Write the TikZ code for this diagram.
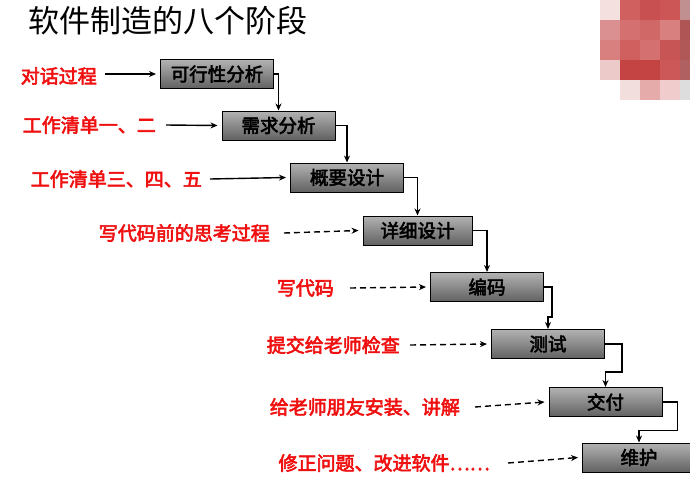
\documentclass[tikz,border=0pt]{standalone}
\usepackage{fontspec}
\setmainfont{Noto Sans CJK SC}[AutoFakeBold=3]
\usetikzlibrary{arrows.meta,calc}
\definecolor{lblred}{HTML}{F01010}
\tikzset{
  stage/.style={draw=black, line width=1pt, top color=black!30, bottom color=black!62, minimum width=113pt, minimum height=29pt, inner sep=0pt, font=\bfseries\fontsize{18.5}{18.5}\selectfont},
  lbl/.style={anchor=east, text=lblred, font=\bfseries\fontsize{19}{19}\selectfont, inner sep=0pt},
  feed/.style={-{Stealth[length=7pt,width=6pt]}, line width=1.4pt},
  feeddash/.style={feed, dash pattern=on 6pt off 4pt},
  link/.style={-{Stealth[length=7pt,width=6pt]}, line width=1.8pt}
}
\begin{document}
\begin{tikzpicture}[x=1pt,y=-1pt]
\useasboundingbox (0,0) rectangle (690,488);
\fill[white] (0,0) rectangle (690,488);
% decoration
\foreach \c [count=\i from 0] in {F5E0E0,D06060,C85050,CC5555,C09090}{\definecolor{tmp}{HTML}{\c}\fill[tmp] (600+20*\i,0) rectangle ++(20,20);}
\foreach \c [count=\i from 0] in {DA9090,D57070,D06868,D88080,B05555}{\definecolor{tmp}{HTML}{\c}\fill[tmp] (600+20*\i,20) rectangle ++(20,20);}
\foreach \c [count=\i from 0] in {D88080,D06060,D57070,C85555,B05858}{\definecolor{tmp}{HTML}{\c}\fill[tmp] (600+20*\i,40) rectangle ++(20,20);}
\foreach \c [count=\i from 0] in {EDCACA,C44444,C44444,CC5858,B06060}{\definecolor{tmp}{HTML}{\c}\fill[tmp] (600+20*\i,60) rectangle ++(20,20);}
\foreach \c [count=\i from 0] in {FFFFFF,F3DEDE,E5AAAA,F0CCCC,DDDDDD}{\definecolor{tmp}{HTML}{\c}\fill[tmp] (600+20*\i,80) rectangle ++(20,20);}
\node[anchor=west, font=\fontsize{31}{31}\selectfont, inner sep=0pt] (title) at (28,21) {软件制造的八个阶段};
% stages
\node[stage] (s1) at (217,74) {可行性分析};
\node[stage] (s2) at (278.5,125.5) {需求分析};
\node[stage] (s3) at (347,177.5) {概要设计};
\node[stage, minimum width=109pt] (s4) at (417.5,230.5) {详细设计};
\node[stage] (s5) at (487,287) {编码};
\node[stage] (s6) at (548,344) {测试};
\node[stage] (s7) at (605.5,402) {交付};
\node[stage] (s8) at (639,457.5) {维护};
% links
\draw[link] (s1.east) -| (s2.north);
\draw[link] (s2.east) -| (s3.north);
\draw[link] (s3.east) -| (s4.north);
\draw[link] (s4.east) -| (s5.north);
\draw[link] (s5.east) -- ++(8,0) |- ($(s6.north)+(0,-12)$) -- (s6.north);
\draw[link] (s6.east) -- ++(17,0) |- ($(s7.north)+(0,-15)$) -- (s7.north);
\draw[link] (s7.east) -- ++(15,0) |- ($(s8.north)+(0,-12)$) -- (s8.north);
% labels
\node[lbl] (l1) at (97,76) {对话过程};
\node[lbl] (l2) at (156,125) {工作清单一、二};
\node[lbl] (l3) at (202,179) {工作清单三、四、五};
\node[lbl] (l4) at (270,233) {写代码前的思考过程};
\node[lbl] (l5) at (334,288) {写代码};
\node[lbl] (l6) at (400,345) {提交给老师检查};
\node[lbl] (l7) at (460,407) {给老师朋友安装、讲解};
\node[lbl] (l8) at (490,463) {修正问题、改进软件……};
% feed arrows
\draw[feed] ($(l1.east)+(8,-2)$) -- ($(s1.west)+(-4,0)$);
\draw[feed] ($(l2.east)+(10,0)$) -- ($(s2.west)+(-4,0)$);
\draw[feed] ($(l3.east)+(8,0)$) -- ($(s3.west)+(-4,0)$);
\draw[feeddash] ($(l4.east)+(14,0)$) -- ($(s4.west)+(-4,0)$);
\draw[feeddash] ($(l5.east)+(16,0)$) -- ($(s5.west)+(-4,0)$);
\draw[feeddash] ($(l6.east)+(10,0)$) -- ($(s6.west)+(-4,0)$);
\draw[feeddash] ($(l7.east)+(15,0)$) -- ($(s7.west)+(-4,0)$);
\draw[feeddash] ($(l8.east)+(18,0)$) -- ($(s8.west)+(-4,0)$);
\end{tikzpicture}
\end{document}
